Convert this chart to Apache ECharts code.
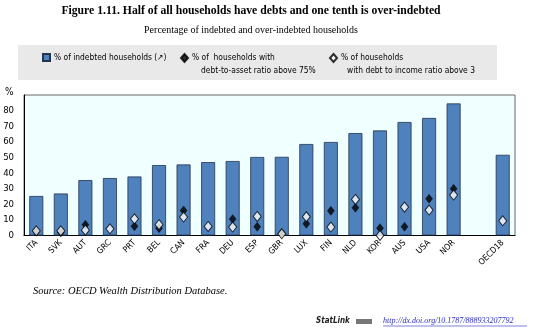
<!DOCTYPE html>
<html><head><meta charset="utf-8">
<script src="https://cdn.jsdelivr.net/npm/echarts@6/dist/echarts.min.js"></script>
<style>html,body{margin:0;padding:0;background:#fff}#c{width:540px;height:331px}</style>
</head><body><div id="c"></div>
<script>
const categories = ['ITA','SVK','AUT','GRC','PRT','BEL','CAN','FRA','DEU','ESP','GBR','LUX','FIN','NLD','KOR','AUS','USA','NOR','','OECD18'];
const indebted = [25.3,26.9,35.5,36.8,37.8,45.1,45.5,47.0,47.7,50.3,50.4,58.6,59.9,65.6,67.3,72.7,75.3,84.6,null,51.7];
const debtToAsset = [2.5,2.0,6.9,null,6.0,4.7,16.0,null,10.5,5.6,1.5,7.5,15.8,17.8,4.7,5.6,23.5,29.9,null,null];
const debtToIncome = [3.0,3.0,3.4,4.3,10.7,6.9,11.8,5.8,5.4,12.2,1.1,12.0,5.4,23.1,0.0,18.2,16.3,25.9,null,9.4];
const yTicks = [0,10,20,30,40,50,60,70,80];
const seriesNames = ['% of indebted households (\u2197)','% of  households with','% of households'];

const chart = echarts.init(document.getElementById('c'), null, {renderer:'canvas'});
const sans = '"Liberation Sans Narrow","DejaVu Sans Condensed","Liberation Sans",Arial,sans-serif';
const serif = '"Liberation Serif","Times New Roman",serif';
const legendBase = {top: 53, itemWidth: 7, itemHeight: 7, itemGap: 4, padding: 0,
  textStyle: {fontFamily: sans, fontSize: 8.4, color: '#000', padding: [0,0,0,-1]}};
chart.setOption({
  animation: false,
  backgroundColor: '#fff',
  textStyle: {fontFamily: sans},
  title: [
    {text: 'Figure 1.11. Half of all households have debts and one tenth is over-indebted', left: 246, top: 0, textAlign: 'center',
     textStyle: {fontFamily: serif, fontWeight: 'bold', fontSize: 11.7, color: '#000'}},
    {text: 'Percentage of indebted and over-indebted households', left: 246, top: 20, textAlign: 'center',
     textStyle: {fontFamily: serif, fontWeight: 'normal', fontSize: 10, color: '#000'}}
  ],
  graphic: [
    {type: 'rect', shape: {x: 18, y: 45, width: 479, height: 35}, style: {fill: '#E9E9E9'}, z: -10, silent: true},
    {type: 'text', x: 201, y: 67, style: {text: 'debt-to-asset ratio above 75%', font: '8.4px ' + sans, fill: '#000'}},
    {type: 'text', x: 347, y: 67, style: {text: 'with debt to income ratio above 3', font: '8.4px ' + sans, fill: '#000'}},
    {type: 'text', x: 5, y: 87, style: {text: '%', font: '10px ' + sans, fill: '#000'}},
    {type: 'text', x: 33, y: 286, style: {text: 'Source: OECD Wealth Distribution Database.', font: 'italic 10.5px ' + serif, fill: '#000'}},
    {type: 'text', x: 316, y: 317, style: {text: 'StatLink', font: 'italic bold 8px ' + sans, fill: '#222'}},
    {type: 'rect', shape: {x: 356, y: 319, width: 16, height: 5}, style: {fill: '#777'}},
    {type: 'text', x: 383, y: 317, style: {text: 'http://dx.doi.org/10.1787/888933207792', font: 'italic 8px ' + serif, fill: '#2B2BC0'}},
    {type: 'line', shape: {x1: 383, y1: 326, x2: 527, y2: 326}, style: {stroke: '#2B2BC0', lineWidth: 0.6}}
  ],
  legend: [
    Object.assign({}, legendBase, {left: 42, data: [{name: seriesNames[0], icon: 'rect'}]}),
    Object.assign({}, legendBase, {left: 180, data: [{name: seriesNames[1], icon: 'diamond'}], itemWidth: 7, itemHeight: 8}),
    Object.assign({}, legendBase, {left: 329, data: [{name: seriesNames[2], icon: 'diamond'}], itemWidth: 7, itemHeight: 8})
  ],
  grid: {left: 24, right: 25, top: 95, bottom: 95.5, show: true, backgroundColor: '#F0FFFF', borderColor: '#666', borderWidth: 1},
  xAxis: {
    type: 'category', data: categories,
    axisLine: {lineStyle: {color: '#000', width: 1}},
    axisTick: {show: false},
    axisLabel: {interval: 0, rotate: 45, fontSize: 8.5, color: '#000', fontFamily: sans, margin: 6}
  },
  yAxis: {
    type: 'value', min: 0, max: 90, interval: 10,
    splitLine: {show: false},
    axisLine: {show: true, lineStyle: {color: '#000'}},
    axisTick: {show: false},
    axisLabel: {fontSize: 9.5, color: '#000', fontFamily: sans, margin: 10,
      formatter: v => yTicks.indexOf(v) >= 0 ? String(v) : ''}
  },
  series: [
    {name: seriesNames[0], type: 'bar', data: indebted, barWidth: 14,
     itemStyle: {color: '#4F81BD', borderColor: '#22344F', borderWidth: 0.8}},
    {name: seriesNames[1], type: 'scatter', data: debtToAsset, symbol: 'diamond', symbolSize: [7, 9],
     itemStyle: {color: '#000', borderColor: '#000', borderWidth: 0.5}, z: 3},
    {name: seriesNames[2], type: 'scatter', data: debtToIncome, symbol: 'diamond', symbolSize: [8, 10],
     itemStyle: {color: '#fff', borderColor: '#000', borderWidth: 1}, z: 4}
  ]
});
</script></body></html>
